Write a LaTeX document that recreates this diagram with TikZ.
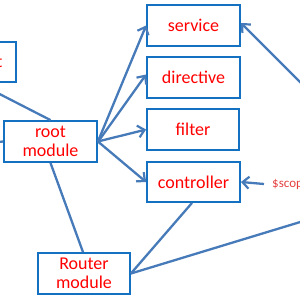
\documentclass[tikz,border=0pt]{standalone}
\usepackage{fontspec}
\setmainfont{Carlito}
\usetikzlibrary{arrows.meta}
\definecolor{boxblue}{RGB}{20,112,192}
\definecolor{lineblue}{RGB}{70,122,184}
\definecolor{txtred}{RGB}{255,0,0}
\definecolor{scopered}{RGB}{228,64,64}
\tikzset{
  box/.style={draw=boxblue, line width=1.8pt, fill=white, minimum width=93pt, minimum height=41pt,
    inner sep=0pt, text=txtred, align=center, font=\fontsize{18}{19}\selectfont},
  conn/.style={draw=lineblue, line width=2.3pt},
  arr/.style={conn, -{Straight Barb[length=6.5pt,width=12pt,line width=2.2pt]}}
}
\begin{document}
\begin{tikzpicture}[x=1pt,y=-1pt]
\useasboundingbox (0,0) rectangle (300,300);
\clip (0,0) rectangle (300,300);
\coordinate (lft) at (-20,84);
\coordinate (lft2) at (-10,143);
\coordinate (rt1) at (320,216);
\coordinate (rt2) at (320,102);
\node[box, minimum width=96pt, minimum height=40pt] (app) at (-32,62) {};
\node[box] (root) at (50.5,141.5) {root\\module};
\node[box] (service) at (193.5,25.5) {service};
\node[box] (directive) at (193.5,77.5) {directive};
\node[box, minimum width=92pt] (filter) at (193,129.5) {filter};
\node[box, minimum height=40pt] (controller) at (193.5,182) {controller};
\node[box, minimum width=92pt] (router) at (84,273.5) {Router\\module};
\node[anchor=east, text=txtred, font=\fontsize{18}{19}\selectfont, inner sep=0pt] (apptxt) at (2.5,62) {t};
\node[anchor=west, text=scopered, font=\fontsize{13}{14}\selectfont, inner xsep=8pt, inner ysep=0pt] (scope) at (264,184) {\$scope};
\draw[conn] (lft) -- (root.north);
\draw[conn] (lft2) -- (root.west);
\draw[arr] (root.east) -- (service.west);
\draw[arr] ([yshift=-0.5pt]root.east) -- ([yshift=3pt]directive.west);
\draw[arr] (root.east) -- (filter.west);
\draw[arr] (root.east) -- (controller.west);
\draw[conn] (root.south) -- ([xshift=-1pt]router.north);
\draw[conn] ([xshift=-1.5pt]controller.south) -- (router.east);
\draw[conn] (router.east) -- (rt1);
\draw[arr] (rt2) -- ([yshift=2.5pt]service.east);
\draw[arr] (scope.west) -- (controller.east);
\end{tikzpicture}
\end{document}
